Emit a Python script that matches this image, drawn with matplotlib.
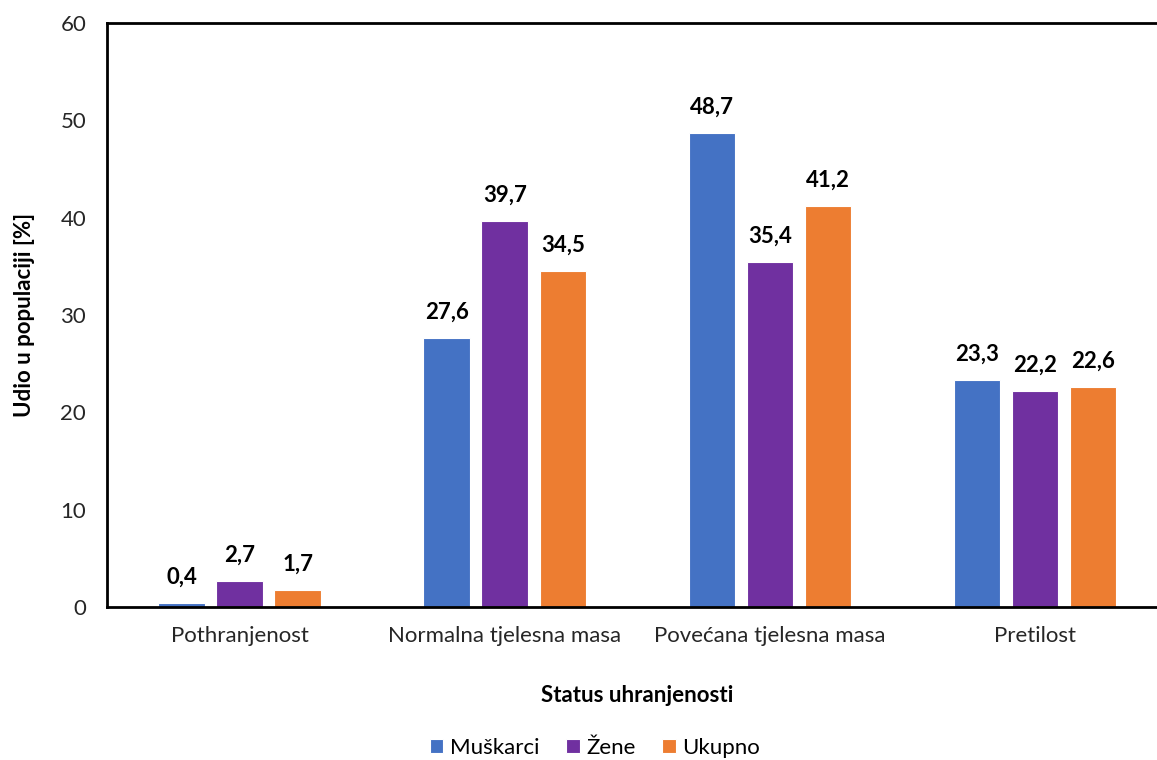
import matplotlib
matplotlib.use("Agg")
import matplotlib.pyplot as plt
import numpy as np

categories = ["Pothranjenost", "Normalna tjelesna masa", "Povećana tjelesna masa", "Pretilost"]
series_names = ["Muškarci", "Žene", "Ukupno"]
muskarci = [0.4, 27.6, 48.7, 23.3]
zene = [2.7, 39.7, 35.4, 22.2]
ukupno = [1.7, 34.5, 41.2, 22.6]
colors = ["#4472C4", "#7030A0", "#ED7D31"]

plt.rcParams['font.family'] = ['Lato', 'DejaVu Sans']

W, H = 1157, 760
fig = plt.figure(figsize=(W/100, H/100), dpi=100)
left = 107 / W
right = 1167.5 / W
bottom = (H - 607) / H
top = (H - 23) / H
ax = fig.add_axes([left, bottom, right - left, top - bottom])

x = np.arange(len(categories))
width = 0.175
step = 0.219
for i, (vals, name, c) in enumerate(zip([muskarci, zene, ukupno], series_names, colors)):
    pos = x + (i - 1) * step
    bars = ax.bar(pos, vals, width, color=c, label=name, edgecolor="white", linewidth=0.8, zorder=2)
    for b, v in zip(bars, vals):
        ax.annotate(f"{v:.1f}".replace(".", ","), (b.get_x() + b.get_width()/2, v),
                    xytext=(0, 11), textcoords="offset points", ha="center", va="bottom",
                    fontsize=16, fontweight="bold", color="black")

ax.set_xlim(-0.5, 3.5)
ax.set_ylim(0, 60)
ax.set_yticks(range(0, 61, 10))
ax.set_xticks(x)
ax.set_xticklabels(categories)
ax.tick_params(axis="both", length=0, labelsize=16, colors="#262626")
ax.tick_params(axis="y", pad=15)
ax.tick_params(axis="x", pad=14)
for s in ["left", "top", "bottom"]:
    ax.spines[s].set_linewidth(2)
    ax.spines[s].set_color("black")
ax.spines["right"].set_visible(False)

ax.set_ylabel("Udio u populaciji [%]", fontsize=16, fontweight="bold", labelpad=18)
ax.set_xlabel("Status uhranjenosti", fontsize=16, fontweight="bold", labelpad=28)
ax.legend(loc="center", bbox_to_anchor=((595/W - left)/(right-left), (bottom - (H-748)/H) * -1 / (top-bottom) ),
          ncol=3, frameon=False, fontsize=16, handlelength=0.6, handleheight=0.6,
          handletextpad=0.3, columnspacing=1.2, bbox_transform=ax.transAxes)

fig.savefig("out.png", dpi=100)
